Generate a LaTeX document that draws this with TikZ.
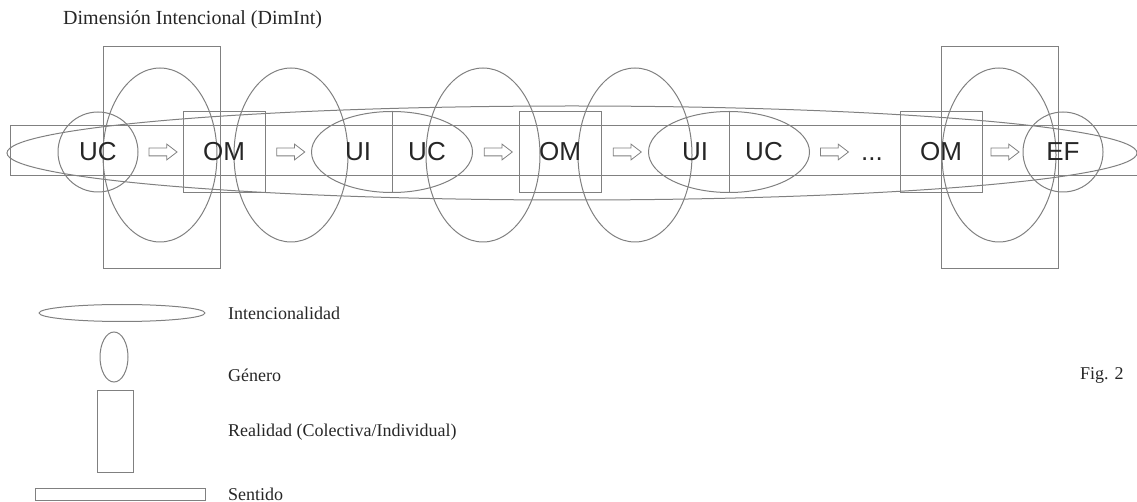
\documentclass[tikz,border=0pt]{standalone}
\usepackage{fontspec}
\setmainfont{Liberation Serif}
\newfontfamily\arialf{Liberation Sans}
\usetikzlibrary{shapes,arrows,calc,positioning}
\definecolor{linea}{gray}{0.5}
\tikzstyle{intent}=[ellipse,draw=linea,line width=1pt,inner sep=0]
\tikzstyle{genero}=[ellipse,draw=linea,line width=1pt,inner sep=0,minimum width=114pt,minimum height=174pt]
\tikzstyle{realidad}=[rectangle,draw=linea,line width=1pt,inner sep=0,minimum width=117pt,minimum height=222pt]
\tikzstyle{sentido}=[rectangle,draw=linea,line width=1pt,inner sep=0]
\tikzstyle{unidad}=[circle,draw=linea,line width=1pt,inner sep=0,minimum size=80pt,text=black!85,font=\arialf\fontsize{26}{26}\selectfont]
\tikzstyle{om}=[rectangle,draw=linea,line width=1pt,inner sep=0,minimum width=82pt,minimum height=81pt,text=black!85,font=\arialf\fontsize{26}{26}\selectfont]
\tikzstyle{par}=[ellipse,draw=linea,line width=1pt,inner sep=0,minimum width=161pt,minimum height=81pt]
\tikzstyle{lbl}=[inner sep=0,text=black!85,font=\arialf\fontsize{26}{26}\selectfont]
\tikzstyle{paso}=[single arrow,draw=linea,line width=0.8pt,minimum height=28pt,inner xsep=0,inner ysep=3.5pt,single arrow head extend=4pt,single arrow tip angle=75]
\tikzstyle{leyenda}=[anchor=west,inner sep=0,text=black!85,font=\fontsize{18}{18}\selectfont]

\begin{document}
\begin{tikzpicture}[x=1pt,y=-1pt]
    \useasboundingbox (0,0) rectangle (1137,502);

    \node[anchor=west,inner sep=0,text=black!85,font=\fontsize{20}{20}\selectfont] (titulo) at (63,20) {Dimensión Intencional (DimInt)};

    % sentido e intencionalidad
    \node[sentido,minimum width=1135pt,minimum height=50pt] (sent) at (578,151) {};
    \node[intent,minimum width=1130pt,minimum height=94pt] (inten) at (572,153) {};

    % realidades
    \node[realidad] (real1) at (161.5,158) {};
    \node[realidad] (real2) at (1000,158) {};

    % generos
    \node[genero] (gen1) at (160,155) {};
    \node[genero] (gen2) at (291,155) {};
    \node[genero] (gen3) at (483,155) {};
    \node[genero] (gen4) at (635,155) {};
    \node[genero] (gen5) at (999,155) {};

    % unidades
    \node[unidad] (uc1) at (98,152) {UC};
    \node[om] (om1) at (224,152) {OM};
    \node[par] (par1) at (392,152) {};
    \draw[linea,line width=1pt] (par1.north) -- (par1.south);
    \node[lbl] (ui1) at ([xshift=-34pt]par1.center) {UI};
    \node[lbl] (uc2) at ([xshift=35pt]par1.center) {UC};
    \node[om] (om2) at (560,152) {OM};
    \node[par] (par2) at (729,152) {};
    \draw[linea,line width=1pt] (par2.north) -- (par2.south);
    \node[lbl] (ui2) at ([xshift=-34pt]par2.center) {UI};
    \node[lbl] (uc3) at ([xshift=35pt]par2.center) {UC};
    \node[lbl] (dots) at (872,152) {\vphantom{U}...};
    \node[om] (om3) at (941,152) {OM};
    \node[unidad] (ef) at (1063,152) {EF};

    % pasos
    \node[paso] at ($(uc1.east)!.5!(om1.west)$) {};
    \node[paso] at ($(om1.east)!.5!(par1.west)$) {};
    \node[paso] at ($(par1.east)!.5!(om2.west)$) {};
    \node[paso] at ($(om2.east)!.5!(par2.west)$) {};
    \node[paso] at ($(par2.east)!.43!(dots.west)$) {};
    \node[paso] at ($(om3.east)!.5!(ef.west)$) {};

    % leyenda
    \node[intent,minimum width=166pt,minimum height=17pt] (kint) at (122,313) {};
    \node[leyenda] (lint) at (228,313) {Intencionalidad};
    \node[ellipse,draw=linea,line width=1pt,inner sep=0,minimum width=28pt,minimum height=50pt] (kgen) at (114,357) {};
    \node[leyenda] (lgen) at (228,375) {Género};
    \node[rectangle,draw=linea,line width=1pt,inner sep=0,minimum width=36pt,minimum height=82pt] (kreal) at (115,431) {};
    \node[leyenda] (lreal) at (228,432) {Realidad (Colectiva/Individual)};
    \node[sentido,minimum width=170pt,minimum height=12pt] (ksent) at (120,494) {};
    \node[leyenda,anchor=base west] (lsent) at (228,500) {Sentido};

    \node[leyenda] (fig) at (1080,375) {Fig. 2};

\end{tikzpicture}
\end{document}
